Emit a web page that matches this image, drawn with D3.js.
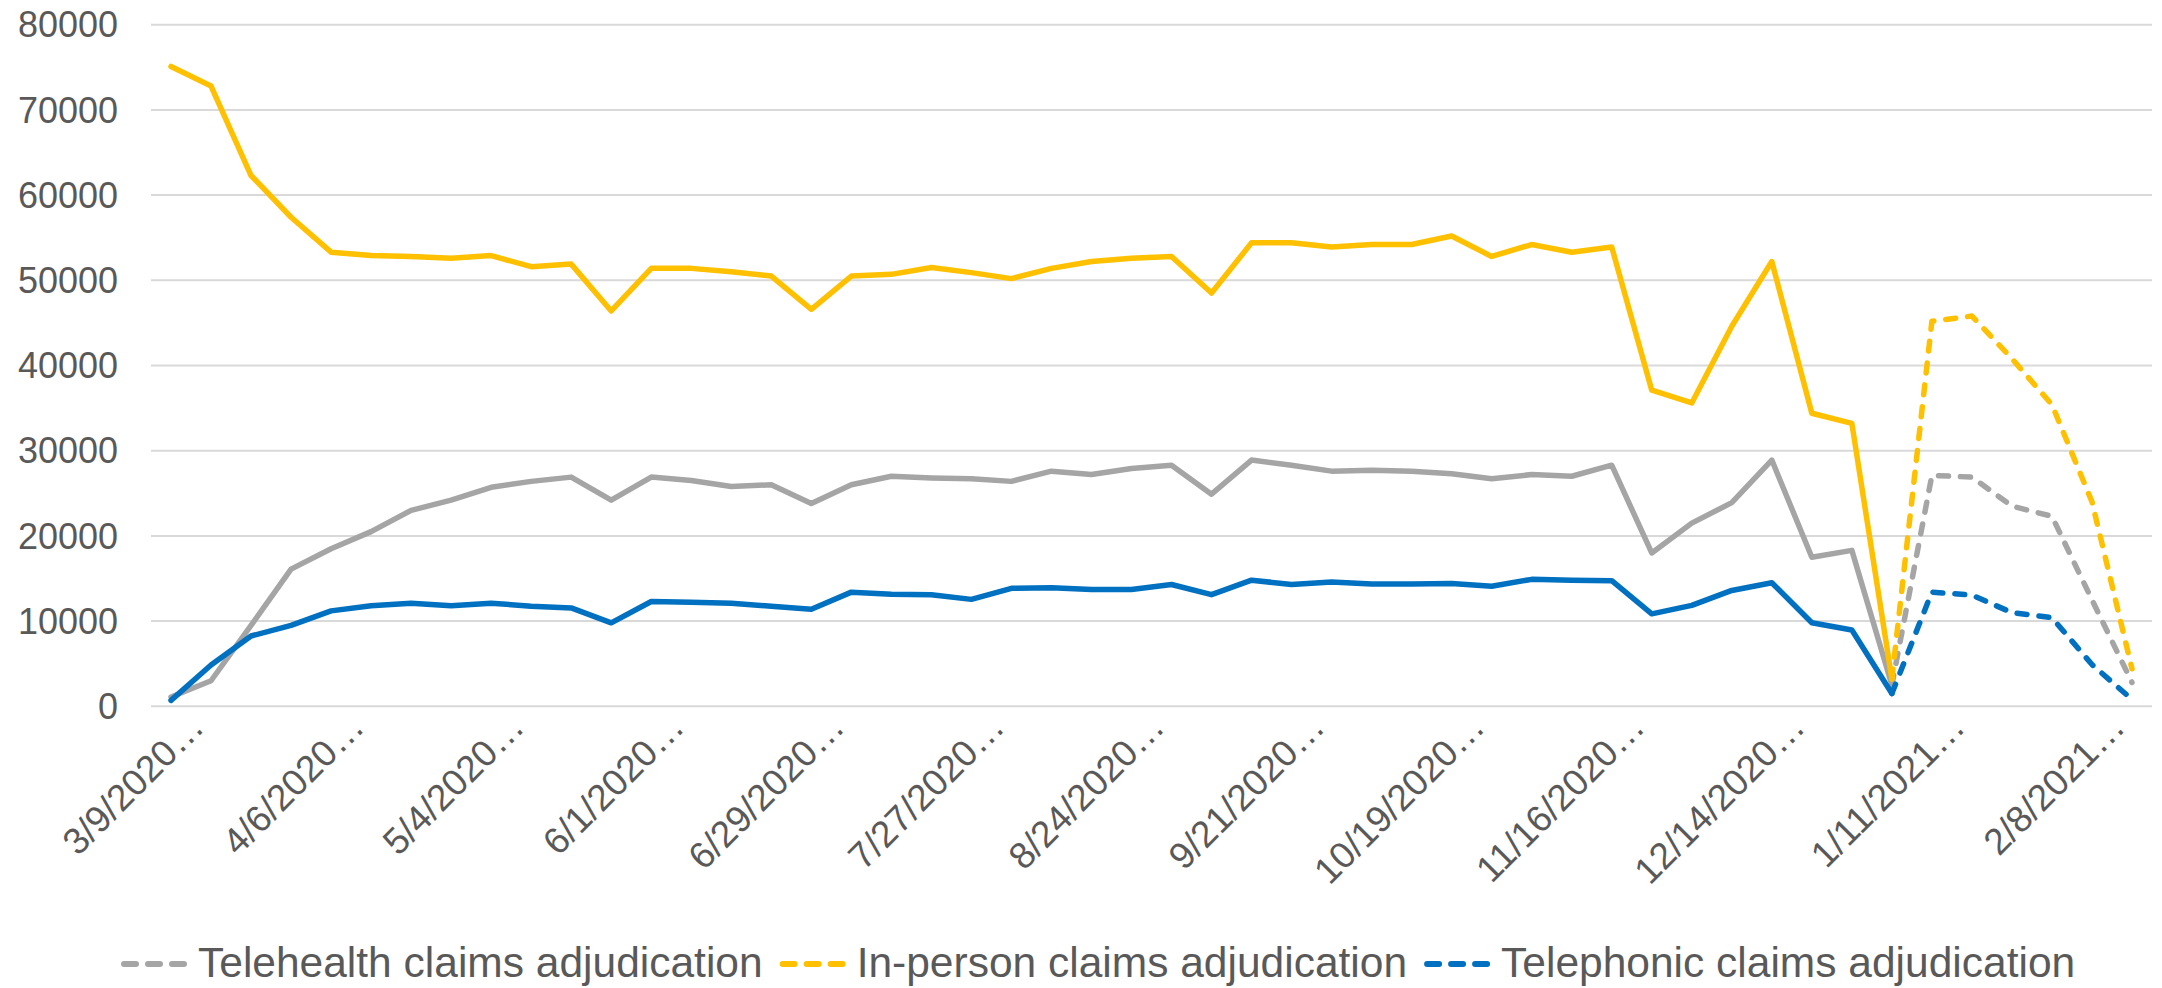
<!DOCTYPE html>
<html>
<head>
<meta charset="utf-8">
<script src="https://cdn.jsdelivr.net/npm/d3@7"></script>
<style>
  body { margin: 0; background: #fff; }
  text { font-family: "Liberation Sans", Arial, sans-serif; fill: #595959; }
</style>
</head>
<body>
<script>
// weekly categories (Excel cuts the long labels with an ellipsis)
var weeks = [
    "3/9/2020", "3/16/2020", "3/23/2020", "3/30/2020", "4/6/2020", "4/13/2020", "4/20/2020", "4/27/2020",
    "5/4/2020", "5/11/2020", "5/18/2020", "5/25/2020", "6/1/2020", "6/8/2020", "6/15/2020", "6/22/2020",
    "6/29/2020", "7/6/2020", "7/13/2020", "7/20/2020", "7/27/2020", "8/3/2020", "8/10/2020", "8/17/2020",
    "8/24/2020", "8/31/2020", "9/7/2020", "9/14/2020", "9/21/2020", "9/28/2020", "10/5/2020", "10/12/2020",
    "10/19/2020", "10/26/2020", "11/2/2020", "11/9/2020", "11/16/2020", "11/23/2020", "11/30/2020", "12/7/2020",
    "12/14/2020", "12/21/2020", "12/28/2020", "1/4/2021", "1/11/2021", "1/18/2021", "1/25/2021", "2/1/2021",
    "2/8/2021", "2/15/2021"
];

var telehealth = [
    1100, 3000, 9500, 16100, 18500, 20500, 23000, 24200, 25700, 26400,
    26900, 24200, 26900, 26500, 25800, 26000, 23800, 26000, 27000, 26800,
    26700, 26400, 27600, 27200, 27900, 28300, 24900, 28900, 28300, 27600,
    27700, 27600, 27300, 26700, 27200, 27000, 28300, 18000, 21500, 23900,
    28900, 17500, 18300, 2500, 27100, 26900, 23500, 22300, 12500, 2800
];

var inPerson = [
    75100, 72800, 62300, 57400, 53300, 52900, 52800, 52600, 52900, 51600,
    51900, 46400, 51400, 51400, 51000, 50500, 46600, 50500, 50700, 51500,
    50900, 50200, 51400, 52200, 52600, 52800, 48500, 54400, 54400, 53900,
    54200, 54200, 55200, 52800, 54200, 53300, 53900, 37100, 35600, 44600,
    52200, 34400, 33200, 3200, 45200, 45800, 40800, 35400, 24000, 4400
];

var telephonic = [
    700, 4850, 8250, 9500, 11200, 11800, 12100, 11800, 12100, 11750,
    11550, 9800, 12300, 12200, 12100, 11750, 11400, 13400, 13150, 13100,
    12550, 13850, 13900, 13700, 13700, 14300, 13100, 14800, 14300, 14600,
    14350, 14350, 14400, 14100, 14900, 14800, 14750, 10850, 11850, 13600,
    14500, 9800, 8950, 1500, 13400, 13050, 11000, 10400, 4900, 800
];

var yTicks = [0, 10000, 20000, 30000, 40000, 50000, 60000, 70000, 80000];
var seriesNames = ["Telehealth claims adjudication", "In-person claims adjudication", "Telephonic claims adjudication"];
var seriesColors = ["#A5A5A5", "#FFC000", "#0070C0"];
var dashFrom = 43; // from 1/4/2021 on the lines are dashed

var width = 2162, height = 988;
var plotLeft = 151, plotRight = 2152, plotTop = 24.7, plotBottom = 706.3;

var svg = d3.select("body").append("svg")
    .attr("width", width)
    .attr("height", height);

svg.append("rect").attr("width", width).attr("height", height).attr("fill", "#fff");

var x = d3.scaleBand().domain(weeks).range([plotLeft, plotRight]);
var y = d3.scaleLinear().domain([0, 80000]).range([plotBottom, plotTop]);

function cx(d) { return x(d) + x.bandwidth() / 2; }

// gridlines
svg.selectAll("line.grid")
    .data(yTicks)
    .enter()
    .append("line")
    .attr("class", "grid")
    .attr("x1", plotLeft)
    .attr("x2", plotRight)
    .attr("y1", function (d) { return y(d); })
    .attr("y2", function (d) { return y(d); })
    .attr("stroke", "#D9D9D9")
    .attr("stroke-width", 2);

// y labels
svg.selectAll("text.ylab")
    .data(yTicks)
    .enter()
    .append("text")
    .attr("class", "ylab")
    .attr("x", 118)
    .attr("y", function (d) { return y(d); })
    .attr("dy", "0.35em")
    .attr("text-anchor", "end")
    .style("font-size", "36px")
    .text(function (d) { return d; });

// x labels, every 4th week, rotated
var shown = weeks.filter(function (d, i) { return i % 4 === 0; });
svg.selectAll("text.xlab")
    .data(shown)
    .enter()
    .append("text")
    .attr("class", "xlab")
    .attr("text-anchor", "end")
    .style("font-size", "37px")
    .attr("transform", function (d) {
        return "translate(" + (cx(d) + 35) + "," + 729 + ") rotate(-45)";
    })
    .text(function (d) { return d + "\u2026"; });

// lines
var allSeries = [telehealth, inPerson, telephonic];

var line = d3.line()
    .x(function (d) { return cx(d.week); })
    .y(function (d) { return y(d.value); });

allSeries.forEach(function (vals, s) {
    var pts = vals.map(function (v, i) { return { week: weeks[i], value: v }; });

    svg.append("path")
        .attr("d", line(pts.slice(0, dashFrom + 1)))
        .attr("fill", "none")
        .attr("stroke", seriesColors[s])
        .attr("stroke-width", 5.5)
        .attr("stroke-linejoin", "round")
        .attr("stroke-linecap", "round");

    svg.append("path")
        .attr("d", line(pts.slice(dashFrom)))
        .attr("fill", "none")
        .attr("stroke", seriesColors[s])
        .attr("stroke-width", 5.5)
        .attr("stroke-linejoin", "round")
        .attr("stroke-linecap", "round")
        .attr("stroke-dasharray", "10,12");
});

// legend
var legend = svg.append("g").attr("transform", "translate(121,0)");
var pos = 0;
seriesNames.forEach(function (name, s) {
    var g = legend.append("g").attr("transform", "translate(" + pos + ",0)");
    g.append("line")
        .attr("x1", 3).attr("x2", 63)
        .attr("y1", 964).attr("y2", 964)
        .attr("stroke", seriesColors[s])
        .attr("stroke-width", 6)
        .attr("stroke-linecap", "round")
        .attr("stroke-dasharray", "12,12");
    var t = g.append("text")
        .attr("x", 77)
        .attr("y", 977)
        .style("font-size", "42.5px")
        .text(name);
    pos += 77 + t.node().getComputedTextLength() + 17;
});
</script>
</body>
</html>
